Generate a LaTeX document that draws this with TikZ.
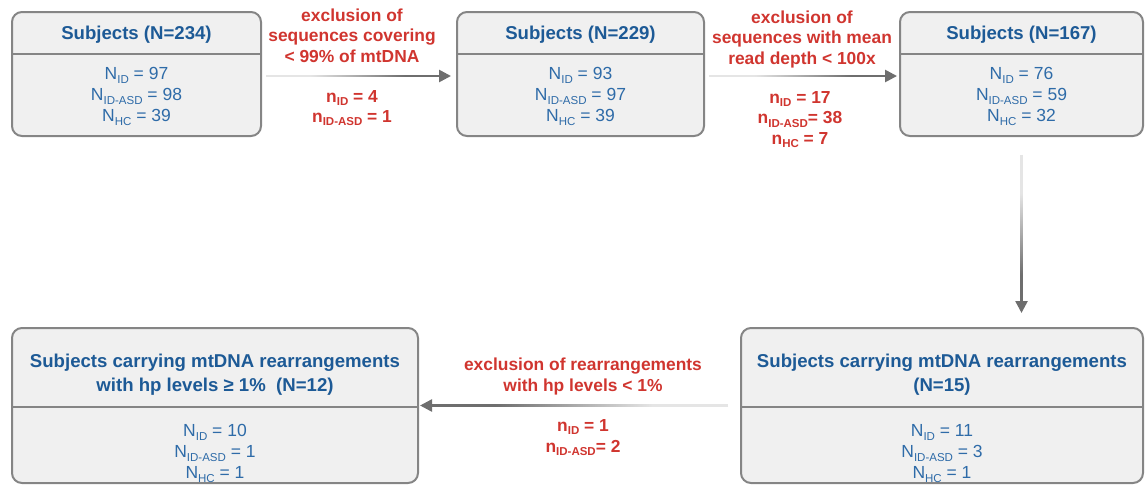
\documentclass[tikz,border=0pt]{standalone}
\usepackage{fontspec}
\setmainfont{Liberation Sans}
\usetikzlibrary{arrows.meta,fadings}
\definecolor{boxfill}{HTML}{F0F0F0}
\definecolor{boxedge}{HTML}{858585}
\definecolor{titleblue}{HTML}{1D5A96}
\definecolor{bodyblue}{HTML}{2E6BA8}
\definecolor{exred}{HTML}{D0352F}
\definecolor{arrowgray}{HTML}{6E6E6E}
\newcommand\sbx[1]{\raisebox{-0.35ex}{\fontsize{11.5}{11.5}\selectfont #1}}
\tikzfading[name=fadeW, left color=transparent!82, middle color=transparent!5, right color=transparent!0]
\tikzfading[name=fadeE, right color=transparent!82, middle color=transparent!5, left color=transparent!0]
\tikzfading[name=fadeN, top color=transparent!82, middle color=transparent!5, bottom color=transparent!0]
\tikzset{
  box/.style={draw=boxedge, fill=boxfill, line width=2pt, rounded corners=10pt, inner sep=0pt},
  divline/.style={draw=boxedge, line width=2pt},
  title/.style={font=\bfseries\fontsize{18.6}{24}\selectfont, text=titleblue, align=center, inner sep=0pt},
  body/.style={font=\fontsize{17.5}{21}\selectfont, text=bodyblue, align=center, inner sep=0pt},
  exlabel/.style={font=\bfseries\fontsize{17.4}{20.5}\selectfont, text=exred, align=center, inner sep=0pt},
  flow/.style={draw=arrowgray, line width=2.5pt, -{Triangle[length=12pt,width=12pt]}, fit fading=false},
}
\begin{document}
\begin{tikzpicture}[x=1pt,y=-1pt]
\useasboundingbox (0,0) rectangle (1146,485);
% boxes
\node[box, minimum width=249pt, minimum height=124pt] (b1) at (136.5,74) {};
\node[box, minimum width=247pt, minimum height=124pt] (b2) at (580.5,74) {};
\node[box, minimum width=243pt, minimum height=124pt] (b3) at (1021.5,74) {};
\node[box, minimum width=406pt, minimum height=155pt] (b4) at (215,405.5) {};
\node[box, minimum width=402pt, minimum height=155pt] (b5) at (942,405.5) {};
% dividers
\draw[divline] (b1.west |- 0,54) -- (b1.east |- 0,54);
\draw[divline] (b2.west |- 0,54) -- (b2.east |- 0,54);
\draw[divline] (b3.west |- 0,54) -- (b3.east |- 0,54);
\draw[divline] (b4.west |- 0,407) -- (b4.east |- 0,407);
\draw[divline] (b5.west |- 0,407) -- (b5.east |- 0,407);
% titles
\node[title] (t1) at (136.5,34.5) {Subjects (N=234)};
\node[title] (t2) at (580.5,34.5) {Subjects (N=229)};
\node[title] (t3) at (1021.5,34.5) {Subjects (N=167)};
\node[title] (t4) at (215,375) {Subjects carrying mtDNA rearrangements\\with hp levels ≥ 1\%~~(N=12)};
\node[title] (t5) at (942,375) {Subjects carrying mtDNA rearrangements\\(N=15)};
% bodies
\node[body] (d1) at (136.5,96.5) {N\sbx{ID} = 97\\N\sbx{ID-ASD} = 98\\N\sbx{HC} = 39};
\node[body] (d2) at (580.5,96.5) {N\sbx{ID} = 93\\N\sbx{ID-ASD} = 97\\N\sbx{HC} = 39};
\node[body] (d3) at (1021.5,96.5) {N\sbx{ID} = 76\\N\sbx{ID-ASD} = 59\\N\sbx{HC} = 32};
\node[body] (d4) at (215,453.5) {N\sbx{ID} = 10\\N\sbx{ID-ASD} = 1\\N\sbx{HC} = 1};
\node[body] (d5) at (942,453.5) {N\sbx{ID} = 11\\N\sbx{ID-ASD} = 3\\N\sbx{HC} = 1};
% arrows
\draw[flow, path fading=fadeW, fading transform={shift={(357.5,76)}, xscale=1.86}, shorten <=4pt, shorten >=5pt] ([yshift=-2pt]b1.east) -- ([yshift=-2pt]b2.west);
\draw[flow, path fading=fadeW, fading transform={shift={(802.5,76)}, xscale=1.9}, shorten <=4pt, shorten >=2pt] ([yshift=-2pt]b2.east) -- ([yshift=-2pt]b3.west);
\draw[flow, path fading=fadeN, fading transform={shift={(1020,234)}, yscale=1.62}, shorten <=18pt, shorten >=14pt] (b3.south) -- (b3.south |- b5.north);
\draw[flow, path fading=fadeE, fading transform={shift={(574,405.5)}, xscale=3.12}, shorten <=12pt, shorten >=1pt] (b5.west) -- (b4.east);
% exclusion labels
\node[exlabel] (e1) at (352,35.5) {exclusion of\\sequences covering\\< 99\% of mtDNA};
\node[exlabel] (n1) at (352,108) {n\sbx{ID} = 4\\n\sbx{ID-ASD} = 1};
\node[exlabel] (e2) at (802,39) {exclusion of\\sequences with mean\\read depth < 100x};
\node[exlabel] (n2) at (800,119.5) {n\sbx{ID} = 17\\n\sbx{ID-ASD}= 38\\n\sbx{HC} = 7};
\node[exlabel] (e3) at (583,376.5) {exclusion of rearrangements\\with hp levels < 1\%};
\node[exlabel] (n3) at (583,437.5) {n\sbx{ID} = 1\\n\sbx{ID-ASD}= 2};
\end{tikzpicture}
\end{document}
